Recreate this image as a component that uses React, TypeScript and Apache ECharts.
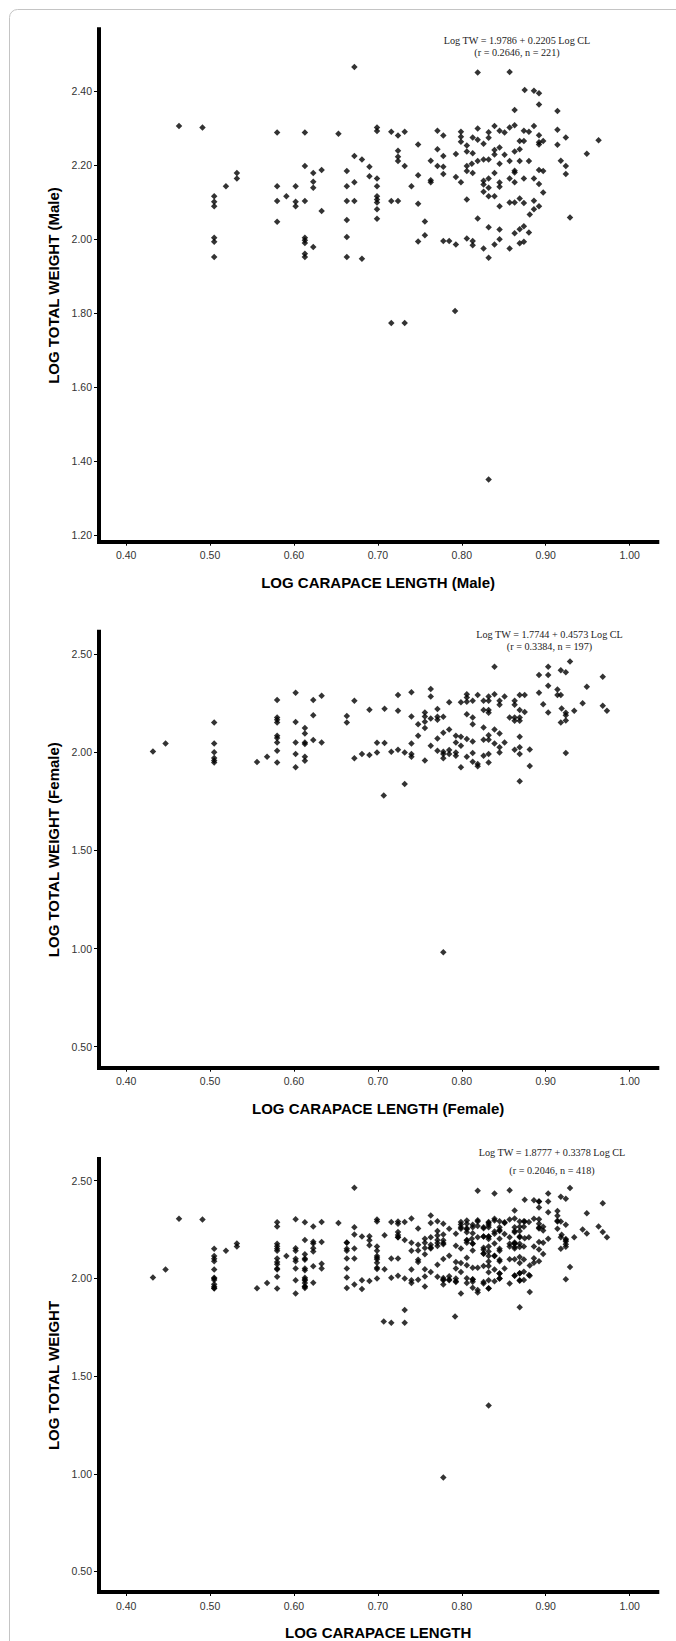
import React, { useEffect, useRef } from "react";
import * as echarts from "echarts";

// Tick values shown on the axes
const xTicks = [0.4, 0.5, 0.6, 0.7, 0.8, 0.9, 1.0];
const yTicksMale = [1.2, 1.4, 1.6, 1.8, 2.0, 2.2, 2.4];
const yTicksFemale = [0.5, 1.0, 1.5, 2.0, 2.5];
const yTicksAll = [0.5, 1.0, 1.5, 2.0, 2.5];

// [log carapace length, log total weight]
const malePoints: [number, number][] = [
  [0.463, 2.305], [0.491, 2.301], [0.672, 2.464], [0.58, 2.287], [0.613, 2.287], [0.653, 2.284], [0.699, 2.301], [0.699, 2.291],
  [0.532, 2.178], [0.532, 2.163], [0.519, 2.142],
  [0.505, 2.115], [0.505, 2.1], [0.505, 2.088], [0.505, 2.003], [0.505, 1.992], [0.505, 1.951],
  [0.58, 2.142], [0.58, 2.102], [0.58, 2.046], [0.591, 2.115],
  [0.602, 2.142], [0.602, 2.1], [0.602, 2.088],
  [0.613, 2.197], [0.613, 2.102], [0.613, 2.003], [0.613, 1.996], [0.613, 1.989], [0.613, 1.96], [0.613, 1.951],
  [0.623, 2.178], [0.623, 2.154], [0.623, 2.138], [0.623, 1.978],
  [0.633, 2.186], [0.633, 2.075],
  [0.663, 2.183], [0.663, 2.142], [0.663, 2.102], [0.663, 2.051], [0.663, 2.005], [0.663, 1.951],
  [0.672, 2.224], [0.672, 2.153], [0.672, 2.102],
  [0.681, 2.214], [0.681, 1.946],
  [0.69, 2.195], [0.69, 2.169],
  [0.699, 2.163], [0.699, 2.142], [0.699, 2.115], [0.699, 2.106], [0.699, 2.098], [0.699, 2.08], [0.699, 2.054],
  [0.716, 1.773], [0.732, 1.773], [0.792, 1.805], [0.832, 1.35],
  [0.819, 2.449], [0.857, 2.451], [0.875, 2.402], [0.886, 2.4], [0.892, 2.393], [0.892, 2.363], [0.863, 2.348], [0.914, 2.345],
  [0.716, 2.289], [0.724, 2.279], [0.732, 2.289], [0.771, 2.292], [0.778, 2.279], [0.799, 2.289], [0.799, 2.276], [0.799, 2.262],
  [0.806, 2.252], [0.813, 2.274], [0.819, 2.298], [0.819, 2.268], [0.826, 2.257], [0.832, 2.288], [0.832, 2.273], [0.839, 2.305],
  [0.845, 2.292], [0.851, 2.287], [0.857, 2.301], [0.863, 2.307], [0.874, 2.292], [0.88, 2.289], [0.886, 2.305], [0.892, 2.28],
  [0.892, 2.261], [0.892, 2.255], [0.897, 2.264], [0.914, 2.295], [0.914, 2.254], [0.924, 2.274], [0.963, 2.266], [0.949, 2.23],
  [0.748, 2.255], [0.724, 2.238], [0.724, 2.222], [0.724, 2.21], [0.732, 2.197], [0.771, 2.242], [0.778, 2.224], [0.793, 2.229],
  [0.763, 2.211], [0.771, 2.197], [0.778, 2.195], [0.778, 2.175], [0.806, 2.236], [0.813, 2.231], [0.839, 2.24], [0.839, 2.228],
  [0.845, 2.247], [0.851, 2.227], [0.857, 2.21], [0.863, 2.236], [0.869, 2.242], [0.869, 2.264], [0.874, 2.264], [0.869, 2.21],
  [0.88, 2.21], [0.819, 2.21], [0.826, 2.214], [0.832, 2.214], [0.812, 2.203], [0.806, 2.197], [0.806, 2.183], [0.813, 2.178],
  [0.839, 2.178], [0.845, 2.203], [0.863, 2.184], [0.863, 2.179], [0.857, 2.163], [0.863, 2.153], [0.874, 2.163], [0.886, 2.163],
  [0.892, 2.186], [0.897, 2.183], [0.892, 2.148], [0.897, 2.125], [0.918, 2.211], [0.924, 2.197], [0.924, 2.175],
  [0.748, 2.172], [0.74, 2.142], [0.763, 2.158], [0.763, 2.153], [0.793, 2.167], [0.799, 2.153], [0.826, 2.157], [0.826, 2.147],
  [0.826, 2.127], [0.832, 2.163], [0.832, 2.138], [0.832, 2.115], [0.839, 2.115], [0.845, 2.152], [0.845, 2.141], [0.806, 2.106],
  [0.716, 2.102], [0.724, 2.102], [0.748, 2.095], [0.845, 2.088], [0.857, 2.098], [0.863, 2.098], [0.869, 2.109], [0.874, 2.097],
  [0.886, 2.103], [0.892, 2.088], [0.886, 2.08], [0.881, 2.066], [0.819, 2.055], [0.929, 2.058], [0.756, 2.047], [0.756, 2.01],
  [0.748, 1.993], [0.778, 1.994], [0.785, 1.994], [0.793, 1.985], [0.806, 2.001], [0.813, 1.994], [0.813, 1.983], [0.826, 1.974],
  [0.832, 2.031], [0.832, 1.949], [0.839, 1.985], [0.845, 2.025], [0.845, 1.999], [0.857, 1.974], [0.863, 2.015], [0.869, 2.026],
  [0.874, 2.034], [0.88, 2.017], [0.869, 1.988], [0.874, 1.992],
];

const femalePoints: [number, number][] = [
  [0.432, 2.004], [0.447, 2.045],
  [0.505, 2.152], [0.505, 2.045], [0.505, 2.0], [0.505, 1.97], [0.505, 1.958], [0.505, 1.948],
  [0.556, 1.95], [0.568, 1.977],
  [0.58, 2.266], [0.58, 2.177], [0.58, 2.165], [0.58, 2.152], [0.58, 2.084], [0.58, 2.072], [0.58, 2.05], [0.58, 2.008], [0.58, 1.948],
  [0.602, 2.303], [0.602, 2.154], [0.602, 2.05], [0.602, 1.991], [0.602, 1.923],
  [0.613, 2.123], [0.613, 2.096], [0.613, 2.05], [0.613, 2.042], [0.613, 1.977], [0.613, 1.957],
  [0.623, 2.266], [0.623, 2.188], [0.623, 2.062],
  [0.633, 2.288], [0.633, 2.05],
  [0.663, 2.184], [0.663, 2.152],
  [0.672, 2.262], [0.672, 1.969],
  [0.681, 1.991],
  [0.69, 2.216], [0.69, 1.986],
  [0.699, 2.048], [0.699, 1.999],
  [0.708, 2.221], [0.708, 2.047],
  [0.707, 1.779], [0.778, 0.981],
  [0.839, 2.435], [0.929, 2.462], [0.903, 2.435], [0.892, 2.393], [0.903, 2.393], [0.918, 2.418], [0.924, 2.407], [0.968, 2.384],
  [0.903, 2.339], [0.949, 2.334], [0.892, 2.303], [0.914, 2.32], [0.914, 2.291], [0.918, 2.291], [0.897, 2.245], [0.903, 2.203],
  [0.919, 2.223], [0.924, 2.201], [0.924, 2.189], [0.934, 2.211], [0.944, 2.25], [0.968, 2.237], [0.973, 2.211], [0.918, 2.152],
  [0.924, 2.162], [0.924, 1.996],
  [0.724, 2.291], [0.724, 2.211], [0.74, 2.306], [0.74, 2.182], [0.763, 2.322], [0.763, 2.284], [0.756, 2.203], [0.756, 2.182],
  [0.756, 2.155], [0.756, 2.123], [0.748, 2.143], [0.763, 2.172], [0.771, 2.22], [0.771, 2.181], [0.771, 2.166], [0.778, 2.181],
  [0.785, 2.254], [0.748, 2.084], [0.74, 2.045], [0.74, 1.991], [0.74, 1.977], [0.732, 1.999], [0.724, 2.013], [0.716, 2.003],
  [0.732, 1.838], [0.756, 1.958], [0.763, 2.033], [0.771, 2.07], [0.778, 2.099], [0.785, 2.116], [0.771, 2.008], [0.778, 2.002],
  [0.778, 1.991], [0.778, 1.969], [0.785, 2.011], [0.785, 1.991], [0.793, 2.084], [0.793, 2.05], [0.799, 2.079], [0.799, 2.033],
  [0.793, 1.999], [0.793, 1.982], [0.799, 1.923], [0.806, 1.977], [0.806, 2.067], [0.813, 2.055], [0.813, 1.996], [0.813, 1.952],
  [0.819, 1.94], [0.819, 1.928], [0.826, 1.982], [0.832, 1.991], [0.832, 1.948],
  [0.799, 2.254], [0.806, 2.296], [0.806, 2.279], [0.806, 2.257], [0.813, 2.262], [0.806, 2.194], [0.813, 2.177], [0.813, 2.143],
  [0.819, 2.291], [0.826, 2.262], [0.832, 2.284], [0.832, 2.262], [0.826, 2.215], [0.832, 2.215], [0.832, 2.201], [0.839, 2.296],
  [0.845, 2.262], [0.845, 2.242], [0.851, 2.284], [0.826, 2.126], [0.826, 2.064], [0.832, 2.064], [0.832, 2.087], [0.839, 2.116],
  [0.845, 2.096], [0.839, 2.045], [0.845, 2.025], [0.845, 1.999], [0.851, 2.05], [0.863, 2.262], [0.863, 2.242], [0.869, 2.291],
  [0.875, 2.291], [0.869, 2.215], [0.875, 2.205], [0.857, 2.177], [0.863, 2.177], [0.863, 2.16], [0.869, 2.177], [0.869, 2.16],
  [0.869, 2.079], [0.863, 2.013], [0.869, 2.026], [0.869, 1.991], [0.881, 2.014], [0.881, 1.93], [0.869, 1.852],
];

const allPoints: [number, number][] = [...malePoints, ...femalePoints];

const xTitles = ["LOG CARAPACE LENGTH (Male)", "LOG CARAPACE LENGTH (Female)", "LOG CARAPACE LENGTH"];
const yTitles = ["LOG TOTAL WEIGHT (Male)", "LOG TOTAL WEIGHT (Female)", "LOG TOTAL WEIGHT"];
const equations = [
  "Log TW = 1.9786 + 0.2205 Log CL",
  "Log TW = 1.7744 + 0.4573 Log CL",
  "Log TW = 1.8777 + 0.3378 Log CL",
];
const stats = ["(r = 0.2646, n = 221)", "(r = 0.3384, n = 197)", "(r = 0.2046, n = 418)"];

const SANS = "Arial, 'Liberation Sans', Helvetica, sans-serif";
const SERIF = "'Liberation Serif', 'Times New Roman', serif";

export default function App() {
  const ref = useRef<HTMLDivElement>(null);

  useEffect(() => {
    if (!ref.current) return;
    const chart = echarts.init(ref.current, null, { renderer: "svg" });

    const grids = [
      { left: 99, top: 29.3, width: 558.3, height: 512.4 },
      { left: 99, top: 631.7, width: 558.3, height: 436 },
      { left: 99, top: 1159, width: 558.3, height: 434.3 },
    ];
    const yRanges = [
      { min: 1.182, max: 2.566, ticks: yTicksMale },
      { min: 0.393, max: 2.614, ticks: yTicksFemale },
      { min: 0.395, max: 2.611, ticks: yTicksAll },
    ];
    const datasets = [malePoints, femalePoints, allPoints];
    const eqPos = [
      { x: 517, y1: 40, y2: 52.7 },
      { x: 549.5, y1: 634, y2: 646 },
      { x: 552, y1: 1152, y2: 1170 },
    ];

    const axisLine = { show: true, lineStyle: { color: "#000", width: 4, cap: "square" } };

    const option: any = {
      animation: false,
      backgroundColor: "#fff",
      grid: grids.map((g) => ({ ...g, containLabel: false })),
      xAxis: grids.map((_, i) => ({
        type: "value",
        gridIndex: i,
        min: 0.3677,
        max: 1.033,
        axisLine,
        axisTick: { show: true, length: 4, customValues: xTicks, lineStyle: { color: "#000", width: 1 } },
        axisLabel: {
          customValues: xTicks,
          formatter: (v: number) => v.toFixed(2),
          fontSize: 10.5,
          fontFamily: SANS,
          color: "#333",
          margin: 8,
        },
        splitLine: { show: false },
        name: xTitles[i],
        nameLocation: "middle",
        nameGap: 33,
        nameTextStyle: { fontSize: 15, fontWeight: "bold", fontFamily: SANS, color: "#000" },
      })),
      yAxis: grids.map((_, i) => ({
        type: "value",
        gridIndex: i,
        min: yRanges[i].min,
        max: yRanges[i].max,
        axisLine,
        axisTick: { show: true, length: 5, customValues: yRanges[i].ticks, lineStyle: { color: "#000", width: 1 } },
        axisLabel: {
          customValues: yRanges[i].ticks,
          formatter: (v: number) => v.toFixed(2),
          fontSize: 10.5,
          fontFamily: SANS,
          color: "#333",
          margin: 7,
        },
        splitLine: { show: false },
        name: yTitles[i],
        nameLocation: "middle",
        nameGap: 38,
        nameTextStyle: { fontSize: 15, fontWeight: "bold", fontFamily: SANS, color: "#000" },
      })),
      series: datasets.map((d, i) => ({
        type: "scatter",
        xAxisIndex: i,
        yAxisIndex: i,
        data: d,
        symbol: "diamond",
        symbolSize: 6.5,
        itemStyle: { color: "#000" },
        silent: true,
      })),
      graphic: [
        {
          type: "rect",
          z: -10,
          shape: { x: 9.5, y: 9.5, width: 720, height: 1700, r: 8 },
          style: { fill: "none", stroke: "#c4c4c4", lineWidth: 1 },
        },
        ...eqPos.flatMap((p, i) => [
          {
            type: "text",
            x: p.x,
            y: p.y1,
            style: { text: equations[i], font: `10.2px ${SERIF}`, fill: "#222", align: "center", verticalAlign: "middle" },
          },
          {
            type: "text",
            x: p.x,
            y: p.y2,
            style: { text: stats[i], font: `10.2px ${SERIF}`, fill: "#222", align: "center", verticalAlign: "middle" },
          },
        ]),
      ],
    };

    chart.setOption(option);
    return () => chart.dispose();
  }, []);

  return (
    <div
      ref={ref}
      style={{ position: "absolute", left: 0, top: 0, width: 676, height: 1641, background: "#fff" }}
    />
  );
}
